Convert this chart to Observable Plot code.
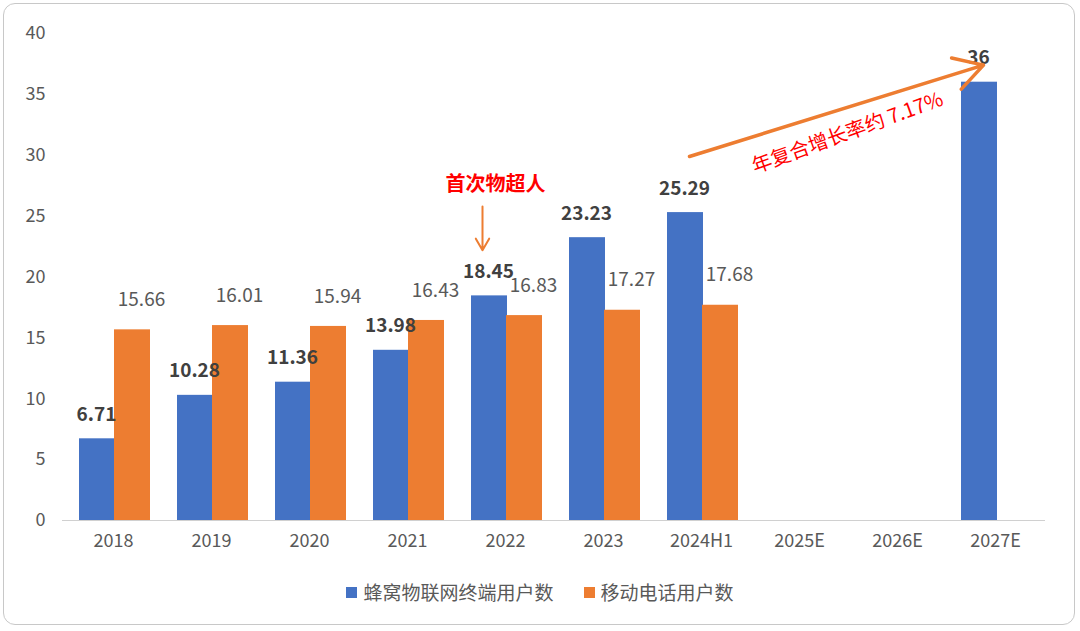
<!DOCTYPE html>
<html><head><meta charset="utf-8">
<script src="https://cdn.jsdelivr.net/npm/d3@7"></script>
<script src="https://cdn.jsdelivr.net/npm/@observablehq/plot@0.6"></script>
<style>
body{margin:0;background:#fff;font-family:"Noto Sans CJK SC","Liberation Sans",sans-serif;}
#frame{position:absolute;left:3px;top:3px;width:1072px;height:622px;border:1.5px solid #c8c8c8;border-radius:12px;box-sizing:border-box;}
#chart{position:absolute;left:0;top:0;}
#legend{position:absolute;top:578px;left:0;width:1080px;text-align:center;font-size:19px;color:#595959;}
.sw{display:inline-block;width:11px;height:11px;margin-right:6px;vertical-align:middle;position:relative;top:-2px}
</style></head><body>
<div id="frame"></div>
<div id="chart"></div>
<div id="legend"><span class="sw" style="background:#4472C4"></span>蜂窝物联网终端用户数<span style="display:inline-block;width:30px"></span><span class="sw" style="background:#ED7D31"></span>移动电话用户数</div>
<script>
const categories = ["2018","2019","2020","2021","2022","2023","2024H1","2025E","2026E","2027E"];
const iotValues = [6.71,10.28,11.36,13.98,18.45,23.23,25.29,null,null,36];
const mobileValues = [15.66,16.01,15.94,16.43,16.83,17.27,17.68,null,null,null];
const yTicks = [0,5,10,15,20,25,30,35,40];

const iot = categories.map((c,i)=>({c,v:iotValues[i]})).filter(d=>d.v!=null);
const mob = categories.map((c,i)=>({c,v:mobileValues[i]})).filter(d=>d.v!=null);

const chart = Plot.plot({
  width:1080, height:570,
  marginLeft:62, marginRight:35, marginTop:33, marginBottom:50,
  style:{fontSize:"18px", fontFamily:"'Noto Sans CJK SC','Liberation Sans',sans-serif", color:"#595959"},
  x:{domain:categories, padding:0, label:null, tickSize:0, tickPadding:14},
  y:{domain:[0,40], ticks:yTicks, label:null, tickSize:0, tickPadding:17},
  marks:[
    Plot.barY(iot,{x:"c",y:"v",fill:"#4472C4",insetLeft:15,insetRight:47}),
    Plot.barY(mob,{x:"c",y:"v",fill:"#ED7D31",insetLeft:50,insetRight:12}),
    Plot.ruleY([0],{stroke:"#d0d0d0"}),
    Plot.text(iot,{x:"c",y:"v",text:d=>String(d.v),dx:-17,dy:-24,fontWeight:"bold",fill:"#404040",fontSize:19}),
    Plot.text(mob,{x:"c",y:"v",text:d=>d.v.toFixed(2),dx:28,dy:-30,fill:"#595959",fontSize:19}),
    Plot.text([{c:"2022",v:27.6}],{x:"c",y:"v",text:()=>"首次物超人",fill:"#FF0000",fontWeight:"bold",fontSize:20,dx:-10}),
    Plot.arrow([{a:"2022",b:"2022"}],{x1:"a",y1:()=>25.8,x2:"b",y2:()=>22.2,dx:-23,stroke:"#ED7D31",strokeWidth:2,headLength:10}),
    Plot.arrow([{a:"2024H1",b:"2027E"}],{x1:"a",y1:()=>29.9,x2:"b",y2:()=>37.4,dx:-12,stroke:"#ED7D31",strokeWidth:3.5,headLength:14,bend:false}),
    Plot.text([{c:"2026E",v:31}],{x:"c",y:"v",text:()=>"年复合增长率约 7.17%",rotate:-20,fill:"#FF0000",fontSize:20,dx:-50,dy:-10})
  ]
});
document.getElementById("chart").appendChild(chart);
</script>
</body></html>
